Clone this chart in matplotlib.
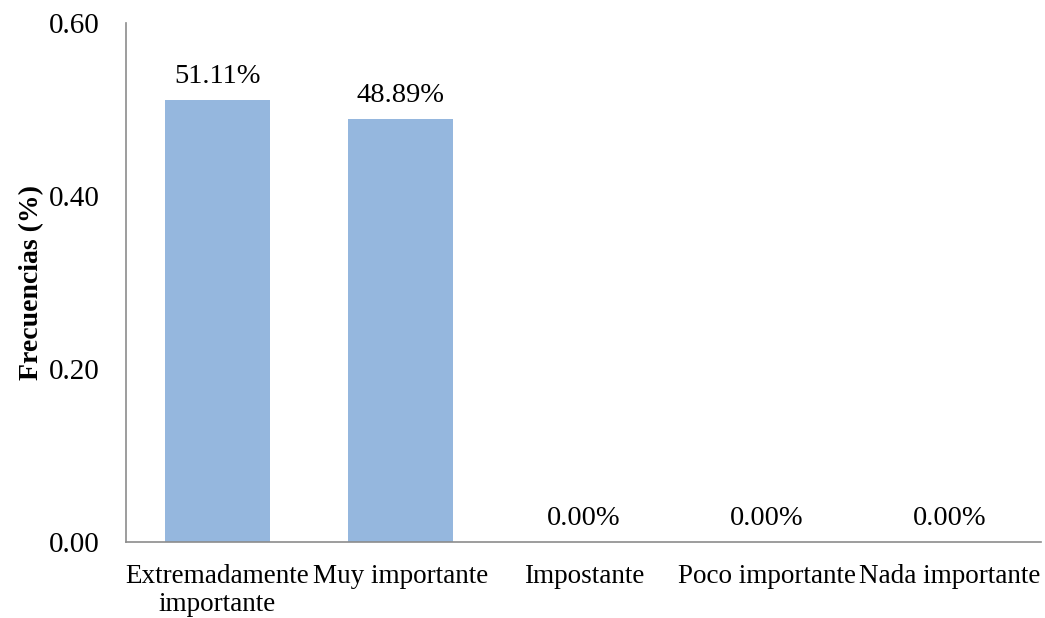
import matplotlib
matplotlib.use("Agg")
import matplotlib.pyplot as plt

categories = ["Extremadamente\nimportante", "Muy importante", "Impostante", "Poco importante", "Nada importante"]
values = [0.5111, 0.4889, 0.0, 0.0, 0.0]
labels = ["51.11%", "48.89%", "0.00%", "0.00%", "0.00%"]
yticks = [0.0, 0.2, 0.4, 0.6]

plt.rcParams['font.family'] = ['Liberation Serif', 'DejaVu Serif']

fig = plt.figure(figsize=(10.45, 6.18), dpi=100)
ax = fig.add_axes([0.1206, 0.123, 0.876, 0.840])
x = list(range(len(categories)))
ax.bar(x, values, width=0.574, color="#95B7DE")
for xi, v, lab in zip(x, values, labels):
    ax.annotate(lab, (xi, v), xytext=(0, 8), textcoords="offset points",
                ha="center", va="bottom", fontsize=20.5)
ax.set_xlim(-0.5, 4.5)
ax.set_ylim(0, 0.6)
ax.set_yticks(yticks)
ax.set_yticklabels([f"{t:.2f}" for t in yticks])
ax.set_xticks(x)
ax.set_xticklabels(categories, fontsize=19.5, linespacing=1.15)
ax.tick_params(axis="y", length=0, labelsize=21, pad=19)
ax.tick_params(axis="x", length=0, pad=16)
for s in ["top", "right"]:
    ax.spines[s].set_visible(False)
for s in ["left", "bottom"]:
    ax.spines[s].set_color("#8c8c8c")
    ax.spines[s].set_linewidth(1.2)
ax.set_ylabel("Frecuencias (%)", fontsize=20, fontweight="bold", labelpad=3)
fig.savefig("out.png", dpi=100)
